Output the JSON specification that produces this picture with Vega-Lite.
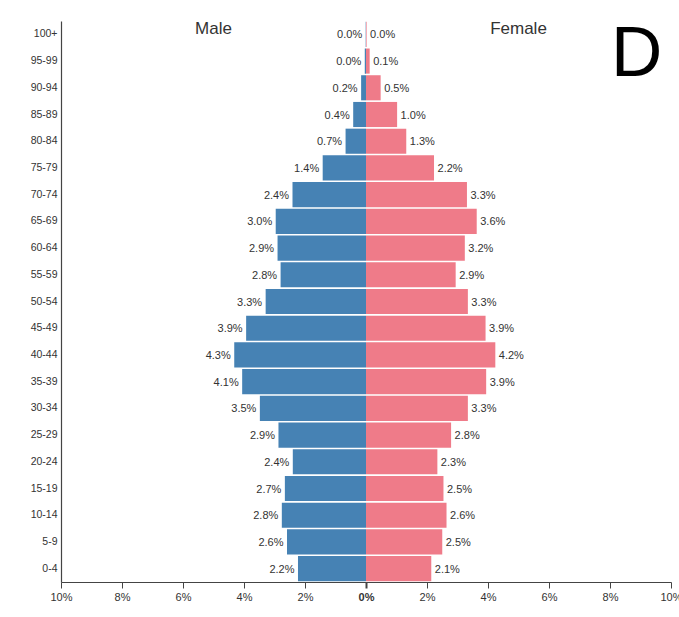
{
  "$schema": "https://vega.github.io/schema/vega-lite/v6.json",
  "width": 610,
  "height": 561,
  "autosize": "none",
  "padding": {"left": 61, "top": 21, "right": 8, "bottom": 35},
  "background": "white",
  "config": {
    "view": {"stroke": null},
    "font": "Liberation Sans",
    "axis": {"labelFont": "Liberation Sans", "labelColor": "#333", "domainColor": "#444", "tickColor": "#444", "grid": false, "title": null}
  },
  "data": {
    "values": [
      {"age": "100+", "sex": "Male", "pct": -0.01}, {"age": "100+", "sex": "Female", "pct": 0.02},
      {"age": "95-99", "sex": "Male", "pct": -0.04}, {"age": "95-99", "sex": "Female", "pct": 0.12},
      {"age": "90-94", "sex": "Male", "pct": -0.16}, {"age": "90-94", "sex": "Female", "pct": 0.48},
      {"age": "85-89", "sex": "Male", "pct": -0.42}, {"age": "85-89", "sex": "Female", "pct": 1.02},
      {"age": "80-84", "sex": "Male", "pct": -0.67}, {"age": "80-84", "sex": "Female", "pct": 1.32},
      {"age": "75-79", "sex": "Male", "pct": -1.42}, {"age": "75-79", "sex": "Female", "pct": 2.23},
      {"age": "70-74", "sex": "Male", "pct": -2.41}, {"age": "70-74", "sex": "Female", "pct": 3.31},
      {"age": "65-69", "sex": "Male", "pct": -2.96}, {"age": "65-69", "sex": "Female", "pct": 3.63},
      {"age": "60-64", "sex": "Male", "pct": -2.9}, {"age": "60-64", "sex": "Female", "pct": 3.24},
      {"age": "55-59", "sex": "Male", "pct": -2.8}, {"age": "55-59", "sex": "Female", "pct": 2.94},
      {"age": "50-54", "sex": "Male", "pct": -3.29}, {"age": "50-54", "sex": "Female", "pct": 3.34},
      {"age": "45-49", "sex": "Male", "pct": -3.93}, {"age": "45-49", "sex": "Female", "pct": 3.92},
      {"age": "40-44", "sex": "Male", "pct": -4.32}, {"age": "40-44", "sex": "Female", "pct": 4.24},
      {"age": "35-39", "sex": "Male", "pct": -4.06}, {"age": "35-39", "sex": "Female", "pct": 3.94},
      {"age": "30-34", "sex": "Male", "pct": -3.48}, {"age": "30-34", "sex": "Female", "pct": 3.34},
      {"age": "25-29", "sex": "Male", "pct": -2.87}, {"age": "25-29", "sex": "Female", "pct": 2.79},
      {"age": "20-24", "sex": "Male", "pct": -2.4}, {"age": "20-24", "sex": "Female", "pct": 2.34},
      {"age": "15-19", "sex": "Male", "pct": -2.66}, {"age": "15-19", "sex": "Female", "pct": 2.54},
      {"age": "10-14", "sex": "Male", "pct": -2.76}, {"age": "10-14", "sex": "Female", "pct": 2.64},
      {"age": "5-9", "sex": "Male", "pct": -2.59}, {"age": "5-9", "sex": "Female", "pct": 2.5},
      {"age": "0-4", "sex": "Male", "pct": -2.23}, {"age": "0-4", "sex": "Female", "pct": 2.14}
    ]
  },
  "encoding": {
    "y": {
      "field": "age",
      "type": "nominal",
      "scale": {
        "domain": ["100+", "95-99", "90-94", "85-89", "80-84", "75-79", "70-74", "65-69", "60-64", "55-59", "50-54", "45-49", "40-44", "35-39", "30-34", "25-29", "20-24", "15-19", "10-14", "5-9", "0-4"],
        "paddingInner": 0.06,
        "paddingOuter": 0.03
      },
      "axis": {"ticks": false, "labelPadding": 4, "labelFontSize": 10.5, "domainWidth": 1.2}
    }
  },
  "layer": [
    {
      "mark": "bar",
      "encoding": {
        "x": {
          "field": "pct",
          "type": "quantitative",
          "scale": {"domain": [-10, 10], "nice": false},
          "axis": {
            "values": [-10, -8, -6, -4, -2, 0, 2, 4, 6, 8, 10],
            "labelExpr": "abs(datum.value) + '%'",
            "labelFlush": false,
            "labelOverlap": false,
            "labelFontSize": 11,
            "labelPadding": 3,
            "tickSize": 6,
            "domainWidth": 1.2,
            "labelFontWeight": {"condition": {"test": "datum.value === 0", "value": "bold"}, "value": "normal"},
            "tickWidth": {"condition": {"test": "datum.value === 0", "value": 2}, "value": 1}
          }
        },
        "color": {
          "field": "sex",
          "type": "nominal",
          "scale": {"domain": ["Male", "Female"], "range": ["#4682b4", "#ef7b89"]},
          "legend": null
        }
      }
    },
    {
      "transform": [{"filter": "datum.sex === 'Male'"}],
      "mark": {"type": "text", "align": "right", "baseline": "middle", "dx": -3.5, "dy": 1, "fontSize": 11, "color": "#333",
        "text": {"expr": "format(abs(datum.pct), '.1f') + '%'"}},
      "encoding": {"x": {"field": "pct", "type": "quantitative"}}
    },
    {
      "transform": [{"filter": "datum.sex === 'Female'"}],
      "mark": {"type": "text", "align": "left", "baseline": "middle", "dx": 3.5, "dy": 1, "fontSize": 11, "color": "#333",
        "text": {"expr": "format(abs(datum.pct), '.1f') + '%'"}},
      "encoding": {"x": {"field": "pct", "type": "quantitative"}}
    },
    {
      "data": {"values": [{"label": "Male", "pos": -5}, {"label": "Female", "pos": 5}]},
      "mark": {"type": "text", "align": "center", "baseline": "alphabetic", "fontSize": 17, "color": "#333"},
      "encoding": {
        "x": {"field": "pos", "type": "quantitative"},
        "y": {"datum": "100+"},
        "text": {"field": "label"}
      }
    },
    {
      "data": {"values": [{"label": "D", "pos": 8.87}]},
      "mark": {"type": "text", "align": "center", "baseline": "alphabetic", "dy": 15, "fontSize": 71, "color": "black"},
      "encoding": {
        "x": {"field": "pos", "type": "quantitative"},
        "y": {"datum": "95-99"},
        "text": {"field": "label"}
      }
    }
  ]
}
